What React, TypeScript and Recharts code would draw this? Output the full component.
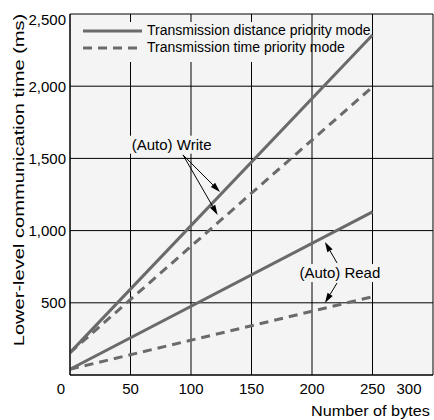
import React from "react";
import {
  LineChart,
  Line,
  XAxis,
  YAxis,
  CartesianGrid,
  Legend,
  ReferenceLine,
  ReferenceDot,
} from "recharts";

const bytes = [0, 250];
const distanceWrite = [155, 2355];
const timeWrite = [155, 1995];
const distanceRead = [40, 1130];
const timeRead = [40, 542];

const xTicks = [0, 50, 100, 150, 200, 250, 300];
const yTicks = [0, 500, 1000, 1500, 2000, 2500];

const seriesNames = [
  "Transmission distance priority mode",
  "Transmission time priority mode",
];

const data = bytes.map((b, i) => ({
  bytes: b,
  distanceWrite: distanceWrite[i],
  timeWrite: timeWrite[i],
  distanceRead: distanceRead[i],
  timeRead: timeRead[i],
}));

const FONT = "'Liberation Sans', Arial, Helvetica, sans-serif";
const LINE_COLOR = "#6a6a6a";
const BG = "#f4f4f4";
const DASH = "9 6";

const fmt = (v: number) => v.toLocaleString("en-US");

const XTick = (props: any) => {
  const { x, y, payload } = props;
  const v = payload.value;
  const shift = v === 0 ? -9 : v === 300 ? -13 : 0;
  return (
    <text x={x + shift} y={y} dy="0.71em" textAnchor="middle" fontSize={15} fontFamily={FONT} fill="#000">
      {v}
    </text>
  );
};

const YTick = (props: any) => {
  const { x, y, payload } = props;
  const v = payload.value;
  if (v === 0) return <g />;
  const shift = v === 2500 ? 6 : 0;
  return (
    <text x={x} y={y + shift} dy="0.355em" textAnchor="end" fontSize={15} fontFamily={FONT} fill="#000">
      {fmt(v)}
    </text>
  );
};

const yLabel = () => (
  <text
    transform="translate(24,180) rotate(-90) scale(1.34,1)"
    textAnchor="middle"
    fontSize={15}
    fontFamily={FONT}
    fill="#000"
  >
    Lower-level communication time (ms)
  </text>
);

const xLabel = () => (
  <text
    transform="translate(311,416) scale(1.08,1)"
    textAnchor="start"
    fontSize={15}
    fontFamily={FONT}
    fill="#000"
  >
    Number of bytes
  </text>
);

const Arrow = (props: any) => {
  const { x1, y1, x2, y2 } = props;
  if ([x1, y1, x2, y2].some((v) => typeof v !== "number" || isNaN(v))) return <g />;
  const ang = Math.atan2(y2 - y1, x2 - x1);
  const len = 10;
  const w = 3;
  const bx = x2 - len * Math.cos(ang);
  const by = y2 - len * Math.sin(ang);
  const px = -Math.sin(ang) * w;
  const py = Math.cos(ang) * w;
  return (
    <g>
      <line x1={x1} y1={y1} x2={bx} y2={by} stroke="#000" strokeWidth={1} />
      <polygon points={`${x2},${y2} ${bx + px},${by + py} ${bx - px},${by - py}`} fill="#000" />
    </g>
  );
};

const makeLabelShape = (text: string, width: number) => (props: any) => {
  const { cx, cy } = props;
  if (typeof cx !== "number" || typeof cy !== "number") return <g />;
  return (
    <g>
      <rect x={cx - width / 2} y={cy - 9} width={width} height={18} fill={BG} />
      <text x={cx} y={cy} dy="0.355em" textAnchor="middle" fontSize={15} fontFamily={FONT} fill="#000">
        {text}
      </text>
    </g>
  );
};

const writeLabel = "(Auto) Write";
const readLabel = "(Auto) Read";

const LegendContent = () => (
  <div style={{ fontFamily: FONT, fontSize: 14, color: "#000" }}>
    {seriesNames.map((name, i) => (
      <div key={name} style={{ height: 17, lineHeight: "17px", whiteSpace: "nowrap", display: "flex", alignItems: "center" }}>
        <svg width={72} height={10} style={{ flex: "none" }}>
          <line
            x1={12}
            y1={5}
            x2={71}
            y2={5}
            stroke={LINE_COLOR}
            strokeWidth={3}
            strokeDasharray={i === 1 ? DASH : undefined}
          />
        </svg>
        <span style={{ marginLeft: 4 }}>{name}</span>
      </div>
    ))}
  </div>
);

export default function App() {
  return (
    <div style={{ position: "absolute", left: 0, top: 0 }}>
      <LineChart
        width={434}
        height={420}
        data={data}
        margin={{ top: 14, right: 1, left: 0, bottom: 0 }}
      >
        <CartesianGrid stroke="#000" fill={BG} strokeWidth={1} />
        <XAxis
          dataKey="bytes"
          type="number"
          domain={[0, 300]}
          ticks={xTicks}
          height={45}
          tickLine={false}
          axisLine={{ stroke: "#000" }}
          tick={<XTick />}
          label={xLabel}
        />
        <YAxis
          type="number"
          domain={[0, 2500]}
          ticks={yTicks}
          width={70}
          tickLine={false}
          tickSize={2}
          tickMargin={2}
          axisLine={{ stroke: "#000" }}
          tick={<YTick />}
          label={yLabel}
        />
        <Legend
          layout="vertical"
          align="center"
          verticalAlign="middle"
          wrapperStyle={{ left: 71, top: 22, width: 234, height: 40, background: BG, overflow: "visible" }}
          content={<LegendContent />}
        />
        <Line dataKey="distanceWrite" name={seriesNames[0]} stroke={LINE_COLOR} strokeWidth={3} dot={false} isAnimationActive={false} type="linear" />
        <Line dataKey="timeWrite" name={seriesNames[1]} stroke={LINE_COLOR} strokeWidth={3} strokeDasharray={DASH} dot={false} isAnimationActive={false} type="linear" />
        <Line dataKey="distanceRead" name={seriesNames[0]} stroke={LINE_COLOR} strokeWidth={3} dot={false} isAnimationActive={false} type="linear" legendType="none" />
        <Line dataKey="timeRead" name={seriesNames[1]} stroke={LINE_COLOR} strokeWidth={3} strokeDasharray={DASH} dot={false} isAnimationActive={false} type="linear" legendType="none" />

        <ReferenceDot x={84} y={1595} r={0} shape={makeLabelShape(writeLabel, 84)} />
        <ReferenceDot x={223} y={706} r={0} shape={makeLabelShape(readLabel, 84)} />

        <ReferenceLine segment={[{ x: 93.4, y: 1524 }, { x: 124, y: 1267 }]} shape={<Arrow />} />
        <ReferenceLine segment={[{ x: 93.4, y: 1524 }, { x: 122, y: 1108 }]} shape={<Arrow />} />
        <ReferenceLine segment={[{ x: 220.7, y: 776 }, { x: 210.7, y: 921 }]} shape={<Arrow />} />
        <ReferenceLine segment={[{ x: 220.7, y: 637 }, { x: 210.7, y: 499 }]} shape={<Arrow />} />
      </LineChart>
    </div>
  );
}
